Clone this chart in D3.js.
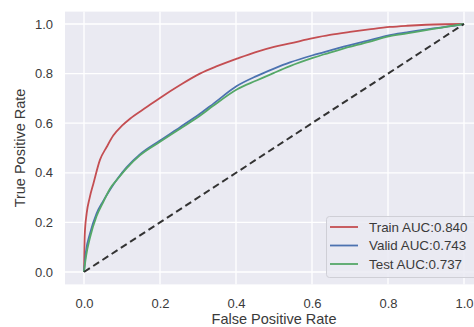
<!DOCTYPE html>
<html>
<head>
<meta charset="utf-8">
<script src="https://cdn.jsdelivr.net/npm/d3@7"></script>
<style>
  body { margin: 0; background: #fff; }
  svg { display: block; font-family: "Liberation Sans", Arial, sans-serif; }
</style>
</head>
<body>
<svg id="chart" width="474" height="327"></svg>
<script>
// ROC curve values
var trainFpr = [0, 0.002, 0.007, 0.015, 0.025, 0.042, 0.06, 0.077, 0.1, 0.121, 0.165, 0.2, 0.253, 0.305, 0.35, 0.402, 0.45, 0.5, 0.542, 0.603, 0.647, 0.7, 0.75, 0.805, 0.85, 0.9, 0.95, 1];
var trainTpr = [0, 0.15, 0.236, 0.3, 0.358, 0.452, 0.505, 0.55, 0.59, 0.618, 0.665, 0.702, 0.754, 0.80, 0.83, 0.86, 0.886, 0.908, 0.922, 0.943, 0.956, 0.968, 0.978, 0.988, 0.993, 0.997, 0.999, 1];

var otherFpr = [0, 0.005, 0.016, 0.033, 0.05, 0.068, 0.09, 0.112, 0.147, 0.2, 0.253, 0.305, 0.34, 0.402, 0.454, 0.5, 0.542, 0.602, 0.63, 0.674, 0.75, 0.802, 0.85, 0.919, 0.96, 1];
var validTpr = [0, 0.08, 0.156, 0.236, 0.285, 0.331, 0.38, 0.422, 0.474, 0.53, 0.584, 0.638, 0.678, 0.75, 0.79, 0.82, 0.845, 0.874, 0.886, 0.905, 0.934, 0.954, 0.966, 0.982, 0.99, 1];
var testTpr  = [0, 0.06, 0.14, 0.225, 0.28, 0.335, 0.378, 0.418, 0.47, 0.525, 0.578, 0.63, 0.67, 0.736, 0.772, 0.803, 0.83, 0.863, 0.877, 0.897, 0.928, 0.95, 0.962, 0.98, 0.99, 1];

var seriesNames = ["Train AUC:0.840", "Valid AUC:0.743", "Test AUC:0.737"];
var seriesColors = ["#c44e52", "#4c72b0", "#55a868"];
var tickValues = [0, 0.2, 0.4, 0.6, 0.8, 1.0];

var svg = d3.select("#chart");
var plotLeft = 65, plotRight = 483, plotTop = 11.6, plotBottom = 284.4;

var x = d3.scaleLinear().domain([-0.05, 1.05]).range([plotLeft, plotRight]);
var y = d3.scaleLinear().domain([-0.05, 1.05]).range([plotBottom, plotTop]);

// background
svg.append("rect")
  .attr("x", plotLeft).attr("y", plotTop)
  .attr("width", plotRight - plotLeft).attr("height", plotBottom - plotTop)
  .attr("fill", "#eaeaf2");

// grid lines
svg.selectAll(".xgrid")
  .data(tickValues)
  .enter()
  .append("line")
    .attr("x1", function(d) {return x(d);})
    .attr("x2", function(d) {return x(d);})
    .attr("y1", plotTop).attr("y2", plotBottom)
    .attr("stroke", "#fff").attr("stroke-width", 1.3);

svg.selectAll(".ygrid")
  .data(tickValues)
  .enter()
  .append("line")
    .attr("y1", function(d) {return y(d);})
    .attr("y2", function(d) {return y(d);})
    .attr("x1", plotLeft).attr("x2", plotRight)
    .attr("stroke", "#fff").attr("stroke-width", 1.3);

// axes (labels only)
var xAxis = svg.append("g")
  .attr("transform", "translate(0," + plotBottom + ")")
  .call(d3.axisBottom(x).tickValues(tickValues).tickSize(0).tickPadding(14).tickFormat(d3.format(".1f")));
var yAxis = svg.append("g")
  .attr("transform", "translate(" + plotLeft + ",0)")
  .call(d3.axisLeft(y).tickValues(tickValues).tickSize(0).tickPadding(12).tickFormat(d3.format(".1f")));

[xAxis, yAxis].forEach(function(a) {
  a.select(".domain").remove();
  a.selectAll("text")
    .style("font-family", "'Liberation Sans', Arial, sans-serif")
    .style("font-size", "13px")
    .style("fill", "#3a3a3a");
});

svg.append("text")
  .attr("x", (plotLeft + plotRight) / 2)
  .attr("y", 324)
  .attr("text-anchor", "middle")
  .style("font-size", "14.5px")
  .style("fill", "#3a3a3a")
  .text("False Positive Rate");

svg.append("text")
  .attr("transform", "translate(25," + ((plotTop + plotBottom) / 2) + ") rotate(-90)")
  .attr("text-anchor", "middle")
  .style("font-size", "14.5px")
  .style("fill", "#3a3a3a")
  .text("True Positive Rate");

// curves
svg.append("clipPath").attr("id", "plotclip")
  .append("rect")
  .attr("x", plotLeft).attr("y", plotTop)
  .attr("width", plotRight - plotLeft).attr("height", plotBottom - plotTop);

var line = d3.line()
  .curve(d3.curveMonotoneX)
  .x(function(d) {return x(d[0]);})
  .y(function(d) {return y(d[1]);});

var curves = [
  d3.zip(trainFpr, trainTpr),
  d3.zip(otherFpr, validTpr),
  d3.zip(otherFpr, testTpr)
];

var plot = svg.append("g").attr("clip-path", "url(#plotclip)");

plot.selectAll(".curve")
  .data(curves)
  .enter()
  .append("path")
    .attr("class", "curve")
    .attr("d", line)
    .attr("fill", "none")
    .attr("stroke", function(d, i) {return seriesColors[i];})
    .attr("stroke-width", 1.8)
    .attr("stroke-linejoin", "round");

// chance line
plot.append("path")
  .attr("d", d3.line()([[x(0), y(0)], [x(1), y(1)]]))
  .attr("fill", "none")
  .attr("stroke", "#333")
  .attr("stroke-width", 2)
  .attr("stroke-dasharray", "7,4");

// legend
var legend = svg.append("g");
legend.append("rect")
  .attr("x", 326.5).attr("y", 216.5)
  .attr("width", 155).attr("height", 61)
  .attr("rx", 3)
  .attr("fill", "#eaeaf2")
  .attr("fill-opacity", 0.85)
  .attr("stroke", "#cfcfd6");

var rows = legend.selectAll(".row")
  .data(seriesNames)
  .enter()
  .append("g")
    .attr("transform", function(d, i) {return "translate(0," + (227 + i * 18.5) + ")";});

rows.append("line")
  .attr("x1", 330).attr("x2", 358)
  .attr("stroke", function(d, i) {return seriesColors[i];})
  .attr("stroke-width", 1.8);

rows.append("text")
  .attr("x", 369)
  .attr("dy", "0.35em")
  .style("font-size", "13.4px")
  .style("fill", "#3a3a3a")
  .text(function(d) {return d;});
</script>
</body>
</html>
